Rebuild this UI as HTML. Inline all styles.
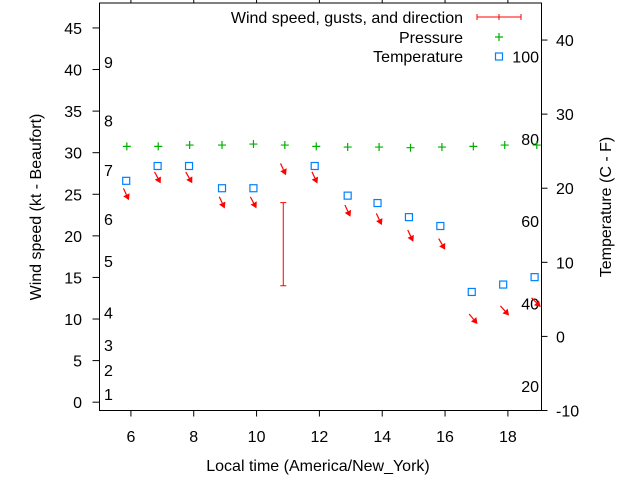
<!DOCTYPE html>
<html><head><meta charset="utf-8"><style>
body{margin:0;background:#fff}
svg{display:block;font-family:"Liberation Sans",sans-serif;font-size:16px}
</style></head><body>
<svg id="chart" width="640" height="480"></svg>
<script>
const hours = [5.85,6.85,7.85,8.9,9.9,10.85,11.85,12.9,13.9,14.9,15.9,16.9,17.9,18.9];
const windSpeed = [25,27,27,24,24,28,27,23,22,20,19,10,11,12];
const windDir = [335,332,330,335,332,335,335,335,335,335,330,320,318,315];
const gustHour = [10.85];
const gustLow = [14];
const gustHigh = [24];
const pressHours = [5.87,6.87,7.87,8.9,9.9,10.9,11.9,12.9,13.9,14.9,15.9,16.9,17.9,18.92];
const pressure = [30.76,30.76,30.92,30.92,31.04,30.92,30.76,30.68,30.68,30.6,30.68,30.76,30.92,30.92];
const tempHours = [5.85,6.85,7.85,8.9,9.9,11.85,12.9,13.85,14.85,15.85,16.85,17.85,18.85];
const tempC = [21,23,23,20,20,23,19,18,16.1,14.9,6,7,8];
const xTicks = [6,8,10,12,14,16,18];
const yTicks = [0,5,10,15,20,25,30,35,40,45];
const cTicks = [-10,0,10,20,30,40];
const fTicks = [20,40,60,80,100];
const bftLabels = ['1','2','3','4','5','6','7','8','9'];
const bftSpeed = [1,3.9,6.9,10.8,17,22,27.9,33.9,40.9];

const L=99.5,R=541.5,T=3,B=410.5;
const X=h=>L+(h-5.0)/(19.07-5.0)*(R-L);
const Y=v=>B-(v+1)/(49)*(B-T);
const YC=c=>B-(c+10)/55*(B-T);
const YF=f=>YC((f-32)*5/9);
const svg=document.getElementById('chart');
const NS='http://www.w3.org/2000/svg';
function mk(tag,attrs,parent){const e=document.createElementNS(NS,tag);for(const k in attrs)e.setAttribute(k,attrs[k]);(parent||svg).appendChild(e);return e;}

let fr=mk('rect',{x:L,y:T,width:R-L,height:B-T,fill:'none',stroke:'#000','stroke-width':1});



xTicks.forEach(t=>{
  const x=X(t);
  let l=mk('line',{x1:x,y1:B,x2:x,y2:B+6,stroke:'#000'});
  
  
  let l2=mk('line',{x1:x,y1:T,x2:x,y2:0,stroke:'#000'});
  
  
  let tx=mk('text',{x:x,y:442,'text-anchor':'middle'});tx.textContent=t;
  
  
});
yTicks.forEach(t=>{
  const y=Y(t);
  let l=mk('line',{x1:L-7,y1:y,x2:L,y2:y,stroke:'#000'});
  
  
  let tx=mk('text',{x:82,y:y+6,'text-anchor':'end'});tx.textContent=t;
  
  
});
cTicks.forEach(t=>{
  const y=YC(t);
  let l=mk('line',{x1:R,y1:y,x2:R+6,y2:y,stroke:'#000'});
  
  
  let tx=mk('text',{x:556,y:y+6,'text-anchor':'start'});tx.textContent=t;
  
  
});
fTicks.forEach(t=>{
  let tx=mk('text',{x:539,y:YF(t)+6,'text-anchor':'end'});tx.textContent=t;
  
  
});
bftLabels.forEach((b,i)=>{
  let tx=mk('text',{x:104,y:Y(bftSpeed[i])+6});tx.textContent=b;
  
  
});

let xt=mk('text',{x:318,y:471,'text-anchor':'middle'});xt.textContent='Local time (America/New_York)';


let yt=mk('text',{x:0,y:0,'text-anchor':'middle',transform:'translate(41,207) rotate(-90)'});yt.textContent='Wind speed (kt - Beaufort)';


let y2t=mk('text',{x:0,y:0,'text-anchor':'middle',transform:'translate(611,207) rotate(-90)'});y2t.textContent='Temperature (C - F)';



const clip=mk('clipPath',{id:'pc'});mk('rect',{x:L,y:T,width:R-L,height:B-T},clip);
const g=mk('g',{'clip-path':'url(#pc)'});

pressHours.forEach((h,i)=>{
  const x=X(h),y=Y(pressure[i]);
  let p=mk('path',{d:`M${x-4},${y}H${x+4}M${x},${y-4}V${y+4}`,stroke:'#00b000','stroke-width':1.2},g);
  
  
});
tempHours.forEach((h,i)=>{
  const x=X(h),y=YC(tempC[i]);
  let r=mk('rect',{x:x-3.5,y:y-3.5,width:7,height:7,fill:'none',stroke:'#0080ff','stroke-width':1.2},g);
  
  
});
hours.forEach((h,i)=>{
  const cx=X(h),cy=Y(windSpeed[i]);
  const a=(windDir[i]+180)*Math.PI/180;
  const dx=Math.sin(a),dy=-Math.cos(a);
  const len=13;
  const x1=cx-dx*len/2,y1=cy-dy*len/2,x2=cx+dx*len/2,y2=cy+dy*len/2;
  const px=-dy,py=dx;
  const hb=6;
  const bx=x2-dx*hb,by=y2-dy*hb;
  let ln=mk('line',{x1:x1,y1:y1,x2:bx,y2:by,stroke:'#f00','stroke-width':1.2},g);
  
  
  let hd=mk('polygon',{points:`${x2},${y2} ${bx+px*3.5},${by+py*3.5} ${bx-px*3.5},${by-py*3.5}`,fill:'#f00'},g);
  
  
});
gustHour.forEach((h,i)=>{
  const x=X(h),y1=Y(gustLow[i]),y2=Y(gustHigh[i]);
  let p=mk('path',{d:`M${x},${y1}V${y2}M${x-3},${y1}H${x+3}M${x-3},${y2}H${x+3}`,stroke:'#f00','stroke-width':1},g);
  
  
});

const leg=[['Wind speed, gusts, and direction',17],['Pressure',37],['Temperature',56]];
leg.forEach((e,i)=>{
  let tx=mk('text',{x:463,y:e[1]+6,'text-anchor':'end'});tx.textContent=e[0];
  
  
});
let ls=mk('path',{d:'M477,17H521M477,14V20M521,14V20M499,14V20',stroke:'#f00'});


let lp=mk('path',{d:'M495,37H503M499,33V41',stroke:'#00b000','stroke-width':1.2});


let lt=mk('rect',{x:495.5,y:53,width:7,height:7,fill:'none',stroke:'#0080ff','stroke-width':1.2});


</script>
</body></html>
